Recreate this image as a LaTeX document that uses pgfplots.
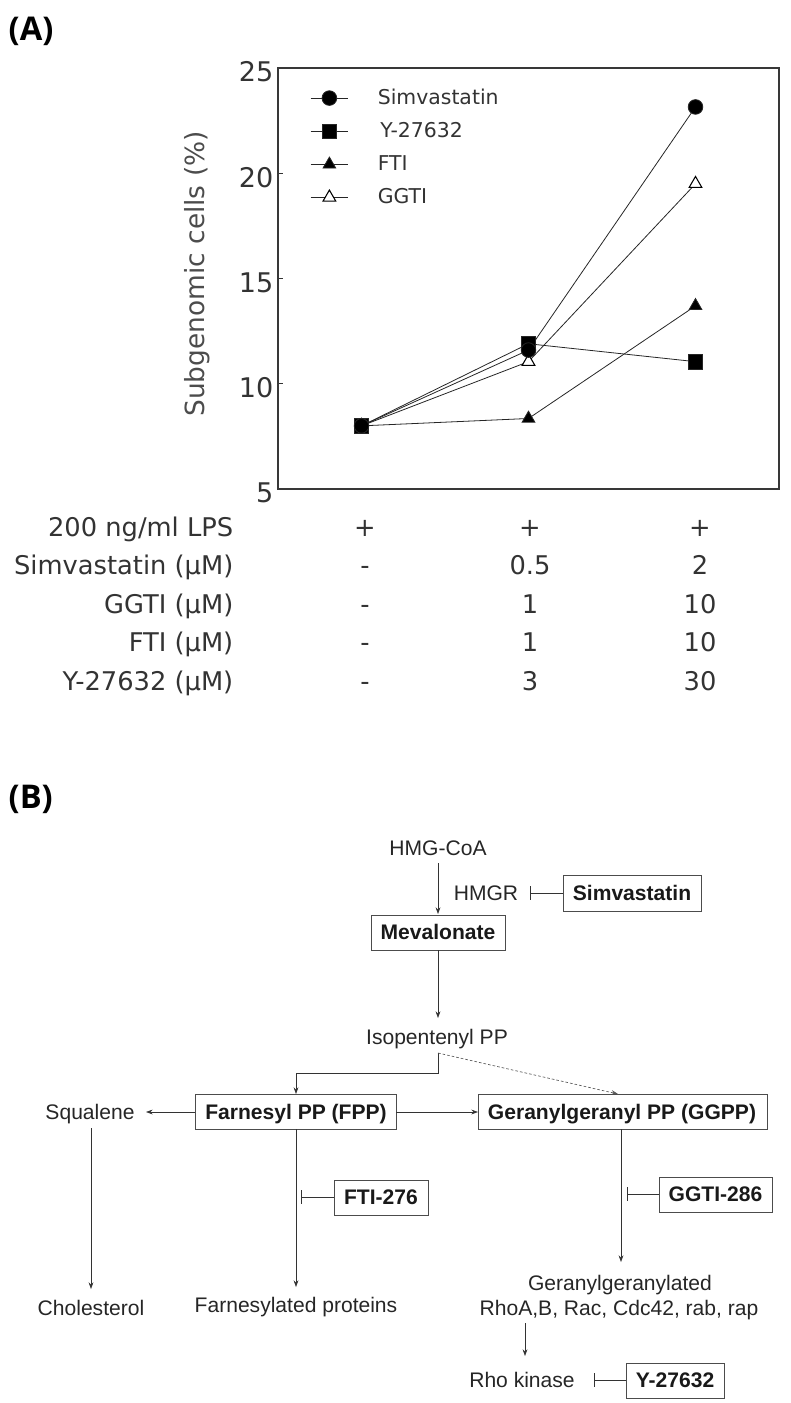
\documentclass[border=0pt]{standalone}
\usepackage{pgfplots}
\pgfplotsset{compat=1.18}
\usepackage{fontspec}
\setmainfont{DejaVu Sans}
\newfontfamily\arialf{Liberation Sans}
\newfontfamily\panelf{Open Sans}
\usetikzlibrary{arrows.meta}
\definecolor{ink}{HTML}{333333}
\newcommand\dfont{\arialf\fontsize{15.8}{18}\selectfont}
\newcommand\dbold{\arialf\bfseries\fontsize{15.8}{18}\selectfont}
\newcommand\tfont{\fontsize{19.3}{23}\selectfont}

\begin{document}
\begin{tikzpicture}
\useasboundingbox (0,0) rectangle (592.5pt,-1052.25pt);

% ---------- panel A ----------
\begin{axis}[
  at={(208.5pt,-366.75pt)}, anchor=south west,
  scale only axis, width=375.75pt, height=315.75pt,
  xmin=-0.5, xmax=2.5, ymin=5, ymax=25,
  xtick=\empty, ytick={5,10,15,20,25}, ytick pos=left,
  major tick length=4pt,
  tick style={black!80, line width=0.8pt},
  axis line style={black!78, line width=1.3pt},
  /pgf/number format/assume math mode=true,
  yticklabel style={text=ink, font=\fontsize{20.3}{24}\selectfont, yshift=-3pt},
  ylabel={Subgenomic cells (\%)},
  ylabel style={at={(-0.1617,0.511)}, anchor=center, text=black!70,
    font=\fontsize{19.8}{23}\selectfont},
  legend style={draw=none, fill=none, at={(0.064,0.95)}, anchor=north west,
    inner sep=0pt, nodes={inner sep=0pt}, row sep=12pt, column sep=22pt,
    font=\fontsize{15.3}{18}\selectfont, text=ink},
  legend cell align=left,
  reverse legend,
  legend image code/.code={\draw[mark repeat=2,mark phase=2]
    plot coordinates {(0pt,0pt) (14pt,0pt) (28pt,0pt)};},
  every axis plot/.append style={black!85, line width=0.6pt, mark size=5.5pt,
    mark options={solid, draw=black}},
]
\addplot[mark=triangle*, mark options={fill=white, draw=black, line width=0.8pt}]
  coordinates {(0,8.0) (1,11.05) (2,19.5)};
\addlegendentry{GGTI}
\addplot[mark=triangle*, mark options={fill=black}]
  coordinates {(0,8.0) (1,8.35) (2,13.7)};
\addlegendentry{FTI}
\addplot[mark=square*, mark options={fill=black}]
  coordinates {(0,8.0) (1,11.9) (2,11.05)};
\addlegendentry{\hspace{2pt}Y-27632}
\addplot[mark=*, mark options={fill=black}]
  coordinates {(0,8.0) (1,11.6) (2,23.15)};
\addlegendentry{Simvastatin}
\end{axis}

\begin{scope}[x=0.75pt, y=-0.75pt]
\node[anchor=base west, font=\panelf\bfseries\fontsize{24.5}{28}\selectfont] at (4,40) {(A)};
\node[anchor=base west, font=\panelf\bfseries\fontsize{24.5}{28}\selectfont] at (4,808) {(B)};

% treatment table below the axis
\begin{scope}[every node/.style={text=ink, font=\tfont}]
\node[anchor=base east] at (238,536.4) {200 ng/ml LPS};
\node[anchor=base] at (365,536.4) {+};
\node[anchor=base] at (530,536.4) {+};
\node[anchor=base] at (700,536.4) {+};
\node[anchor=base east] at (238,574.9) {Simvastatin (µM)};
\node[anchor=base] at (365,574.9) {-};
\node[anchor=base] at (530,574.9) {0.5};
\node[anchor=base] at (700,574.9) {2};
\node[anchor=base east] at (238,613.4) {GGTI (µM)};
\node[anchor=base] at (365,613.4) {-};
\node[anchor=base] at (530,613.4) {1};
\node[anchor=base] at (700,613.4) {10};
\node[anchor=base east] at (238,651.9) {FTI (µM)};
\node[anchor=base] at (365,651.9) {-};
\node[anchor=base] at (530,651.9) {1};
\node[anchor=base] at (700,651.9) {10};
\node[anchor=base east] at (238,690.4) {Y-27632 (µM)};
\node[anchor=base] at (365,690.4) {-};
\node[anchor=base] at (530,690.4) {3};
\node[anchor=base] at (700,690.4) {30};
\end{scope}

% ---------- panel B ----------
\tikzset{
  bx/.style={draw=black!70, line width=0.6pt},
  ar/.style={-{Stealth[length=5pt,width=3.6pt]}, line width=0.5pt, black!80},
  inh/.style={-{Bar[width=10pt]}, line width=0.5pt, black!80},
  tx/.style={anchor=base, font=\dfont, text=black!85},
  tb/.style={anchor=base, font=\dbold, text=black!90},
}
\node[tx] at (438,855.4) {HMG-CoA};
\draw[ar] (438,863) -- (438,914);
\node[tx] at (486,900.4) {HMGR};
\draw[inh] (563,893) -- (530,893);
\draw[bx] (563,875) rectangle (701,911);
\node[tb] at (632,900.4) {Simvastatin};
\draw[bx] (371,915) rectangle (505,950);
\node[tb] at (438,939.4) {Mevalonate};
\draw[ar] (438,950) -- (438,1018);
\node[tx] at (437,1044.4) {Isopentenyl PP};
\draw[ar] (438,1053) -- (438,1073) -- (296,1073) -- (296,1094);
\draw[ar, dash pattern=on 2pt off 1.5pt, black!65] (438,1053) -- (618,1094);

\draw[bx] (195,1094) rectangle (396,1129);
\node[tb] at (296,1119.4) {Farnesyl PP (FPP)};
\draw[bx] (478,1094) rectangle (767,1129);
\node[tb] at (622,1119.4) {Geranylgeranyl PP (GGPP)};
\node[tx] at (90,1119.4) {Squalene};
\draw[ar] (195,1112) -- (146,1112);
\draw[ar] (396,1112) -- (478,1112);

\draw[ar] (91,1128) -- (91,1289);
\node[tx] at (91,1315.4) {Cholesterol};
\draw[ar] (296,1129) -- (296,1287);
\node[tx] at (296,1312.4) {Farnesylated proteins};
\draw[inh] (334,1197) -- (301,1197);
\draw[bx] (334,1180) rectangle (428,1215);
\node[tb] at (381,1204.4) {FTI-276};

\draw[ar] (621,1129) -- (621,1262);
\draw[inh] (659,1194) -- (627,1194);
\draw[bx] (659,1177) rectangle (772,1212);
\node[tb] at (715.5,1201.4) {GGTI-286};
\node[tx] at (620,1290.4) {Geranylgeranylated};
\node[tx] at (619,1315.4) {RhoA,B, Rac, Cdc42, rab, rap};
\draw[ar] (525,1323) -- (525,1356);
\node[tx] at (522,1387.4) {Rho kinase};
\draw[inh] (626,1380) -- (594,1380);
\draw[bx] (626,1363) rectangle (724,1398);
\node[tb] at (675,1387.4) {Y-27632};
\end{scope}
\end{tikzpicture}
\end{document}
